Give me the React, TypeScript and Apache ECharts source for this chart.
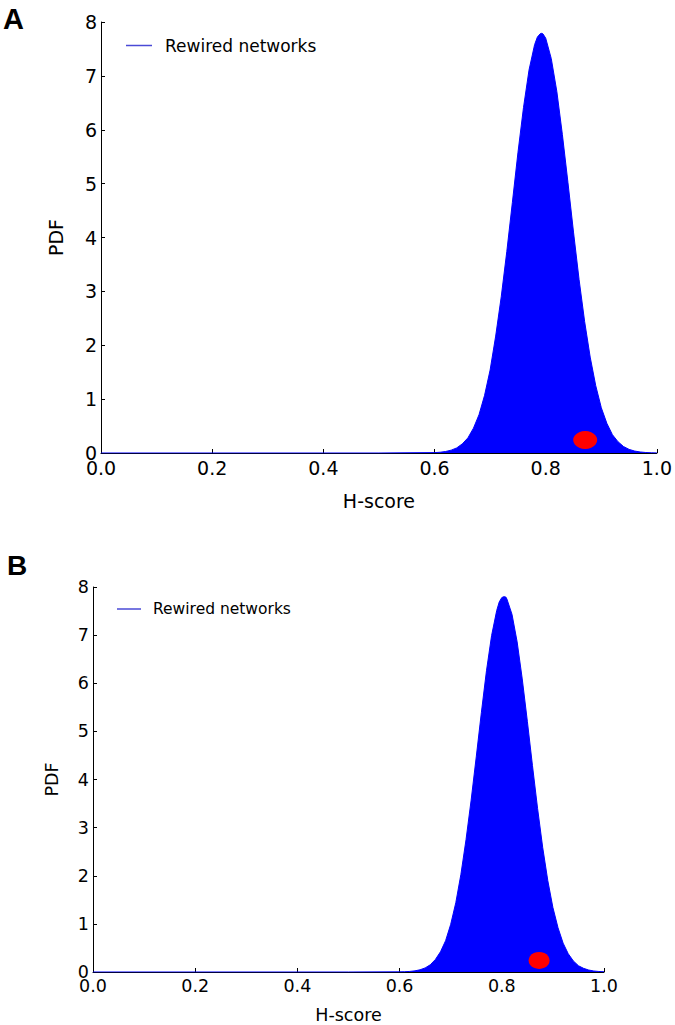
import React, { useEffect, useRef } from "react";
import * as echarts from "echarts";

const xTicks = [0, 0.2, 0.4, 0.6, 0.8, 1.0];
const yTicks = [0, 1, 2, 3, 4, 5, 6, 7, 8];
const seriesName = "Rewired networks";

// Panel A density curve (H-score, PDF)
const curveAX = [0.0, 0.5, 0.6, 0.61, 0.62, 0.63, 0.64, 0.65, 0.66, 0.67, 0.68, 0.69, 0.7, 0.71, 0.72, 0.73, 0.74, 0.75, 0.76, 0.77, 0.78, 0.785, 0.79, 0.792, 0.795, 0.8, 0.81, 0.82, 0.83, 0.84, 0.85, 0.86, 0.87, 0.88, 0.89, 0.9, 0.91, 0.92, 0.93, 0.94, 0.95, 0.96, 0.97, 0.98, 0.99, 1.0];
const curveAY = [0, 0, 0.007, 0.014, 0.028, 0.053, 0.095, 0.17, 0.28, 0.46, 0.71, 1.07, 1.54, 2.17, 2.9, 3.74, 4.65, 5.57, 6.41, 7.11, 7.58, 7.72, 7.78, 7.79, 7.78, 7.7, 7.32, 6.71, 5.91, 5.02, 4.1, 3.22, 2.44, 1.78, 1.25, 0.84, 0.55, 0.34, 0.21, 0.12, 0.067, 0.036, 0.019, 0.009, 0.004, 0.002];
const pointA = [0.871, 0.24];

// Panel B density curve
const curveBX = [0.0, 0.5, 0.6, 0.61, 0.62, 0.63, 0.64, 0.65, 0.66, 0.67, 0.68, 0.69, 0.7, 0.71, 0.72, 0.73, 0.74, 0.75, 0.76, 0.77, 0.78, 0.79, 0.795, 0.8, 0.804, 0.808, 0.81, 0.82, 0.83, 0.84, 0.85, 0.86, 0.87, 0.88, 0.89, 0.9, 0.91, 0.92, 0.93, 0.94, 0.95, 0.96, 0.97, 0.98, 0.99, 1.0];
const curveBY = [0, 0, 0.003, 0.006, 0.012, 0.024, 0.046, 0.085, 0.15, 0.26, 0.42, 0.65, 0.99, 1.44, 2.03, 2.75, 3.57, 4.47, 5.39, 6.26, 6.99, 7.51, 7.69, 7.78, 7.8, 7.79, 7.75, 7.43, 6.86, 6.09, 5.21, 4.29, 3.4, 2.59, 1.9, 1.34, 0.92, 0.6, 0.38, 0.23, 0.13, 0.076, 0.041, 0.021, 0.011, 0.005];
const pointB = [0.873, 0.24];

const FONT = "DejaVu Sans";

function makeAxes(gridIndex: number, fs: number, xGap: number, yGap: number) {
  const xAxis = {
    type: "value",
    gridIndex,
    min: xTicks[0],
    max: xTicks[xTicks.length - 1],
    interval: 0.2,
    name: "H-score",
    nameLocation: "middle",
    nameGap: xGap,
    nameTextStyle: { color: "#000", fontSize: fs, fontFamily: FONT },
    axisLine: { show: true, lineStyle: { color: "#000", width: 1 } },
    axisTick: { show: true, inside: true, length: 4, lineStyle: { color: "#000" } },
    axisLabel: { color: "#000", fontSize: fs, fontFamily: FONT, margin: 5, formatter: (v: number) => v.toFixed(1) },
    splitLine: { show: false },
  };
  const yAxis = {
    type: "value",
    gridIndex,
    min: yTicks[0],
    max: yTicks[yTicks.length - 1],
    interval: 1,
    name: "PDF",
    nameLocation: "middle",
    nameGap: yGap,
    nameTextStyle: { color: "#000", fontSize: fs, fontFamily: FONT },
    axisLine: { show: true, lineStyle: { color: "#000", width: 1 } },
    axisTick: { show: true, inside: true, length: 4, lineStyle: { color: "#000" } },
    axisLabel: { color: "#000", fontSize: fs, fontFamily: FONT, margin: 4 },
    splitLine: { show: false },
  };
  return { xAxis, yAxis };
}

function curveSeries(idx: number, xs: number[], ys: number[]) {
  return {
    name: seriesName,
    type: "line",
    xAxisIndex: idx,
    yAxisIndex: idx,
    data: xs.map((x, i) => [x, ys[i]]),
    showSymbol: false,
    symbol: "none",
    smooth: false,
    lineStyle: { color: "#0000ff", width: 1 },
    itemStyle: { color: "#4a4ad6" },
    areaStyle: { color: "#0000ff", opacity: 1 },
    z: 2,
  };
}

function pointSeries(idx: number, p: number[], size: number[]) {
  return {
    type: "scatter",
    xAxisIndex: idx,
    yAxisIndex: idx,
    data: [p],
    symbol: "circle",
    symbolSize: size,
    itemStyle: { color: "#ff0000", opacity: 1 },
    z: 5,
  };
}

export default function App() {
  const ref = useRef<HTMLDivElement>(null);
  useEffect(() => {
    if (!ref.current) return;
    const chart = echarts.init(ref.current, null, { renderer: "svg" });
    const a = makeAxes(0, 19, 38, 36);
    const b = makeAxes(1, 17.5, 34, 32);
    chart.setOption({
      animation: false,
      backgroundColor: "#fff",
      grid: [
        { left: 101, top: 22, width: 557, height: 431 },
        { left: 93, top: 587, width: 511, height: 394 },
      ],
      xAxis: [a.xAxis, b.xAxis],
      yAxis: [a.yAxis, b.yAxis],
      legend: [
        {
          left: 121,
          top: 32,
          icon: "rect",
          itemWidth: 26,
          itemHeight: 1.5,
          data: [{ name: seriesName, itemStyle: { color: "#4a4ad6" } }],
          textStyle: { color: "#000", fontSize: 17, fontFamily: FONT, padding: [0, 0, 0, 8] },
          selectedMode: false,
        },
        {
          left: 112,
          top: 596,
          icon: "rect",
          itemWidth: 24,
          itemHeight: 1.5,
          data: [{ name: seriesName, itemStyle: { color: "#4a4ad6" } }],
          textStyle: { color: "#000", fontSize: 15.5, fontFamily: FONT, padding: [0, 0, 0, 7] },
          selectedMode: false,
        },
      ],
      graphic: [
        {
          type: "text",
          x: 3,
          y: 19,
          style: { text: "A", fontSize: 29, fontWeight: "bold", fontFamily: "Liberation Sans", fill: "#000", verticalAlign: "middle" },
        },
        {
          type: "text",
          x: 7,
          y: 565,
          style: { text: "B", fontSize: 28, fontWeight: "bold", fontFamily: "Liberation Sans", fill: "#000", verticalAlign: "middle" },
        },
      ],
      series: [
        curveSeries(0, curveAX, curveAY),
        pointSeries(0, pointA, [24, 18]),
        curveSeries(1, curveBX, curveBY),
        pointSeries(1, pointB, [21, 17]),
      ],
    });
    return () => chart.dispose();
  }, []);
  return <div ref={ref} style={{ position: "absolute", left: 0, top: 0, width: 675, height: 1025 }} />;
}
